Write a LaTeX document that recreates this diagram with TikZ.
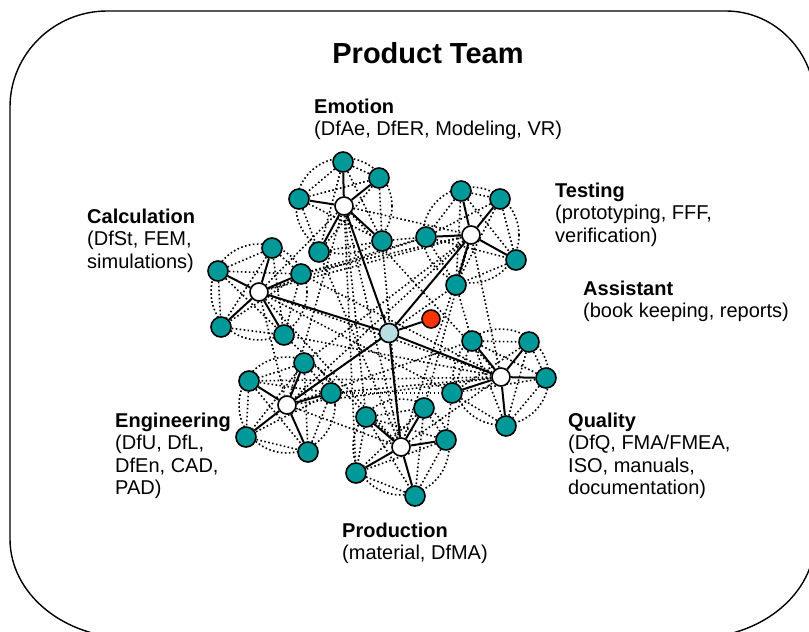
\documentclass[tikz,border=0pt]{standalone}
\usepackage{fontspec}
\setmainfont{Liberation Sans}
\usetikzlibrary{backgrounds}

\definecolor{teamteal}{RGB}{0,153,153}
\definecolor{leadblue}{RGB}{183,222,224}
\definecolor{helperred}{RGB}{255,51,0}

\tikzset{
  member/.style={circle, draw, line width=1.6pt, fill=teamteal, minimum size=20pt, inner sep=0pt},
  hub/.style={circle, draw, line width=1.6pt, fill=white, minimum size=18pt, inner sep=0pt},
  lead/.style={circle, draw, line width=1.6pt, fill=leadblue, minimum size=19pt, inner sep=0pt},
  helper/.style={circle, draw, line width=1.6pt, fill=helperred, minimum size=18pt, inner sep=0pt},
  link/.style={line width=2pt},
  tie/.style={line width=1.6pt, dash pattern=on 1.6pt off 2.4pt},
  heading/.style={font=\fontsize{29}{34}\selectfont\bfseries, anchor=base, inner sep=0pt},
  group/.style={font=\fontsize{20}{22.5}\selectfont, align=left, anchor=base west, inner sep=0pt}
}

\begin{document}
\begin{tikzpicture}[x=1pt, y=-1pt]
  \clip (0,0) rectangle (809,632);

  % Frame
  \draw[line width=1.4pt] (107,11) -- (726,11) .. controls (775,11) and (815,52) .. (815,103)
    -- (815,539) .. controls (815,594) and (761,638) .. (695,638)
    -- (130,638) .. controls (64,638) and (10,594) .. (10,539)
    -- (10,107) .. controls (10,54) and (54,11) .. (107,11) -- cycle;

  % Title
  \node[heading] (title) at (428,63) {Product Team};

  % Group labels (placed at the baseline of the last line)
  \node[group] (emotion) at (314,135.5) {\textbf{Emotion}\\(DfAe, DfER, Modeling, VR)};
  \node[group] (testing) at (555,242) {\textbf{Testing}\\(prototyping, FFF,\\verification)};
  \node[group] (calculation) at (87,268) {\textbf{Calculation}\\(DfSt, FEM,\\simulations)};
  \node[group] (assistant) at (583,317.5) {\textbf{Assistant}\\(book keeping, reports)};
  \node[group] (engineering) at (115,494.5) {\textbf{Engineering}\\(DfU, DfL,\\DfEn, CAD,\\PAD)};
  \node[group] (quality) at (568,494.5) {\textbf{Quality}\\(DfQ, FMA/FMEA,\\ISO, manuals,\\documentation)};
  \node[group] (production) at (342,559.5) {\textbf{Production}\\(material, DfMA)};

  % Leader and assistant
  \node[lead] (pt) at (389,333) {};
  \node[helper] (as) at (431,319) {};

  % Group hubs
  \node[hub] (em) at (344,206) {};
  \node[hub] (te) at (471,235) {};
  \node[hub] (ca) at (259,292) {};
  \node[hub] (en) at (287,405) {};
  \node[hub] (pr) at (401,447) {};
  \node[hub] (qu) at (501,377) {};

  % Group members
  \foreach \x/\y [count=\i] in {343/162, 379/178, 299/199, 319/252, 382/241}
    \node[member] (em\i) at (\x,\y) {};
  \foreach \x/\y [count=\i] in {461/191, 500/199, 426/237, 516/260, 456/285}
    \node[member] (te\i) at (\x,\y) {};
  \foreach \x/\y [count=\i] in {272/248, 218/271, 301/274, 221/327, 284/335}
    \node[member] (ca\i) at (\x,\y) {};
  \foreach \x/\y [count=\i] in {304/363, 249/381, 331/393, 246/437, 308/452}
    \node[member] (en\i) at (\x,\y) {};
  \foreach \x/\y [count=\i] in {366/417, 424/408, 446/440, 356/473, 415/496}
    \node[member] (pr\i) at (\x,\y) {};
  \foreach \x/\y [count=\i] in {472/341, 529/342, 546/378, 452/393, 506/426}
    \node[member] (qu\i) at (\x,\y) {};

  \begin{pgfonlayer}{background}
    % Dotted rings round each group
    \foreach \c in {em,te,ca,en,pr,qu}
      \draw[tie] (\c) circle (48pt);

    % Dotted ties inside each group
    \foreach \c in {em,te,ca,en,pr,qu}
      \foreach \i in {1,...,4} {
        \pgfmathtruncatemacro\k{\i+1}
        \foreach \j in {\k,...,5}
          \draw[tie] (\c\i) -- (\c\j);
      }

    % Dotted ties between groups
    \foreach \a/\b in {em/te, em/ca, em/en, em/pr, em/qu, te/ca, te/en, te/pr, te/qu,
                       ca/en, ca/pr, ca/qu, en/pr, en/qu, pr/qu}
      \draw[tie] (\a) -- (\b);
    \foreach \a/\b in {qu/en3, qu/en2, qu/ca3, em/pr1, em/pr4, te/ca3, te/en1, ca/te3,
                       ca/qu4, en/te5, en/qu1, pr/em4, pr/em5, pr/ca5, qu/ca5, te/pr2,
                       ca3/te3, en3/qu4, em5/te3, te5/qu1, pr3/qu4}
      \draw[tie] (\a) -- (\b);

    % Solid links
    \foreach \c in {em,te,ca,en,pr,qu} {
      \draw[link] (pt) -- (\c);
      \foreach \i in {1,...,5}
        \draw[link] (\c) -- (\c\i);
    }
    \draw[link] (pt) -- (as);
  \end{pgfonlayer}
\end{tikzpicture}
\end{document}
